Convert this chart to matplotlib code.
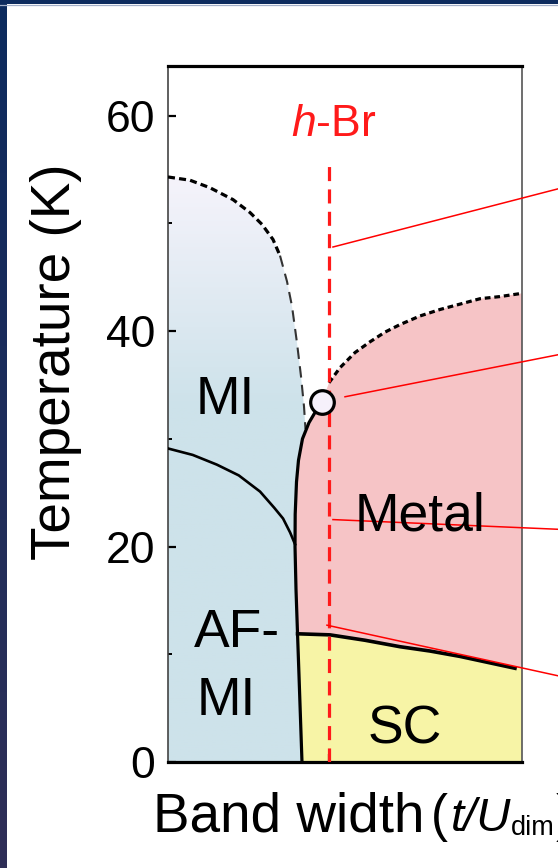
import numpy as np
import matplotlib
matplotlib.use("Agg")
import matplotlib.pyplot as plt
from matplotlib.patches import Polygon
from matplotlib.lines import Line2D
from matplotlib.colors import to_rgb

plt.rcParams['font.family'] = ['Liberation Sans', 'DejaVu Sans']
plt.rcParams['mathtext.fontset'] = 'custom'
plt.rcParams['mathtext.rm'] = 'Liberation Sans'
plt.rcParams['mathtext.it'] = 'Liberation Sans:italic'

# ---- phase boundaries: band width (arb. units 0..1) vs temperature (K) ----
# insulator crossover (dashed), from the left edge down to the Mott line
mi_x = [0.0, 0.0621, 0.1186, 0.1836, 0.2316, 0.2655, 0.2966, 0.3164,
        0.3362, 0.3503, 0.3644, 0.3757, 0.3842, 0.3884]
mi_T = [54.3, 54.0, 53.3, 52.2, 51.0, 49.9, 48.5, 47.0,
        44.6, 42.3, 38.9, 35.8, 33.0, 30.9]
# first-order Mott transition line (solid), bottom to the critical end point
mott_x = [0.3785, 0.3743, 0.3701, 0.3658, 0.3616, 0.3588, 0.3593,
          0.3630, 0.3686, 0.3799, 0.3983, 0.4181]
mott_T = [0.0, 4.0, 8.0, 12.0, 16.0, 20.0, 23.0, 26.0, 28.0, 30.0, 31.5, 32.6]
# antiferromagnetic ordering line
af_x = [0.0, 0.07, 0.138, 0.20, 0.26, 0.30, 0.325, 0.345, 0.359]
af_T = [29.1, 28.5, 27.6, 26.6, 25.1, 23.6, 22.6, 21.3, 20.2]
# metal crossover (dotted), from the end point to the right edge
met_x = [0.4548, 0.4859, 0.5282, 0.5706, 0.6130, 0.6554, 0.7119,
         0.7684, 0.8249, 0.8814, 0.9379, 1.0]
met_T = [35.2, 36.6, 38.0, 39.0, 39.9, 40.6, 41.4, 42.0, 42.5, 43.0, 43.2, 43.5]
# superconducting transition
sc_x = [0.366, 0.4576, 0.5565, 0.6554, 0.7401, 0.8249, 0.9802]
sc_T = [11.9, 11.8, 11.3, 10.7, 10.3, 9.8, 8.7]
# critical end point
cp_x, cp_T = 0.435, 33.4
# h-Br position
hbr_x, hbr_top = 0.455, 55.5
# leader lines toward the right margin
lead_x0 = [0.466, 0.50, 0.466, 0.449]
lead_T0 = [47.8, 33.9, 22.5, 12.7]
lead_T1 = [53.2, 37.8, 21.6, 8.0]
lead_x1 = 1.102

y_major = [0, 20, 40, 60]
y_minor = [10, 30, 50]
T_max = 64.6

W, H = 558, 868
fig = plt.figure(figsize=(W / 100, H / 100), dpi=100)
fig.patch.set_facecolor('white')

# navy frame on the left and top
left = fig.add_axes([0, 0, 7 / W, 1])
grad = np.linspace(0, 1, 256)[:, None, None]
c_top, c_bot = np.array(to_rgb('#0c2a5e')), np.array(to_rgb('#2f2f57'))
left.imshow(c_top * (1 - grad) + c_bot * grad, aspect='auto', extent=(0, 1, 0, 1))
left.axis('off')
top = fig.add_axes([0, 1 - 4 / H, 1, 4 / H])
top.set_facecolor('#0d2b5e')
top.set_xticks([]); top.set_yticks([])
for s in top.spines.values():
    s.set_visible(False)
fig.add_artist(Line2D([0, 1], [1 - 4.6 / H, 1 - 4.6 / H], color='#a3afc8', lw=0.9))

ax = fig.add_axes([168 / W, (H - 762) / H, 354 / W, 696 / H])
ax.set_xlim(0, 1)
ax.set_ylim(0, T_max)

# insulating region with a fading gradient
mi_poly = (list(zip(mi_x, mi_T))
           + [(x, t) for x, t in zip(mott_x[::-1], mott_T[::-1]) if t <= 30.5]
           + [(0, 0)])
mi_patch = Polygon(mi_poly, closed=True, facecolor='none', edgecolor='none')
ax.add_patch(mi_patch)
Tg = np.linspace(0, T_max, 400)[::-1]
blue, pale = np.array(to_rgb('#cde2ea')), np.array(to_rgb('#f5f3fb'))
f = np.clip((Tg - 33) / (54 - 33), 0, 1)[:, None, None]
img = blue * (1 - f) + pale * f
im = ax.imshow(img, extent=(0, 1, 0, T_max), aspect='auto', zorder=1)
im.set_clip_path(mi_patch)

# metallic region
met_poly = ([(x, t) for x, t in zip(mott_x, mott_T) if t >= 12] + [(cp_x, cp_T)]
            + list(zip(met_x, met_T)) + [(1.0, sc_T[-1])]
            + list(zip(sc_x[::-1], sc_T[::-1])))
ax.add_patch(Polygon(met_poly, closed=True, facecolor='#f6c4c6', edgecolor='none', zorder=1))

# superconducting region
sc_poly = ([(x, t) for x, t in zip(mott_x, mott_T) if t <= 12]
           + list(zip(sc_x, sc_T)) + [(1.0, sc_T[-1]), (1.0, 0.0)])
ax.add_patch(Polygon(sc_poly, closed=True, facecolor='#f7f4a6', edgecolor='none', zorder=1))

# boundaries
ax.plot(mi_x[:8], mi_T[:8], color='black', lw=2.3, ls=(0, (2.2, 1.3)), zorder=3)
ax.plot(mi_x[7:], mi_T[7:], color='#333333', lw=1.5, ls=(0, (5.5, 3.5)), zorder=3)
ax.plot(met_x, met_T, color='black', lw=2.3, ls=(0, (1.8, 1.2)), zorder=3)
ax.plot(mott_x + [cp_x], mott_T + [cp_T], color='black', lw=2.3, zorder=3)
ax.plot(af_x, af_T, color='black', lw=1.9, zorder=3)
ax.plot(sc_x, sc_T, color='black', lw=2.6, zorder=3)

# h-Br line and label
ax.plot([hbr_x, hbr_x], [0, hbr_top], color='#ff1a1a', lw=2.3, ls=(0, (4.4, 2.6)), zorder=4)
ax.text(hbr_x + 0.012, 59.2, r'$\it{h}$-Br', color='#ff1a1a', fontsize=32,
        ha='center', va='center', zorder=5)

# leader lines
for x0, t0, t1 in zip(lead_x0, lead_T0, lead_T1):
    ax.plot([x0, lead_x1], [t0, t1], color='#ff0000', lw=1.1, clip_on=False, zorder=5)

# critical end point
ax.plot([cp_x], [cp_T], marker='o', ms=17, mfc='#f6f1fb', mec='black', mew=2.3, zorder=6)

# phase labels
lab = dict(fontsize=38.5, va='center', zorder=5)
ax.text(0.161, 33.6, 'MI', ha='center', **lab)
ax.text(0.074, 12.0, 'AF-', ha='left', **lab)
ax.text(0.080, 5.7, 'MI', ha='left', **lab)
ax.text(0.712, 22.8, 'Metal', ha='center', **lab)
ax.text(0.669, 3.0, 'SC', ha='center', **lab)

# axes styling
ax.set_yticks(y_major)
ax.set_yticks(y_minor, minor=True)
ax.set_xticks([hbr_x])
ax.set_xticklabels([''])
ax.tick_params(axis='y', which='major', direction='in', length=6, width=1.6,
               labelsize=32, pad=9)
ax.tick_params(axis='y', which='minor', direction='in', length=3, width=1.4)
ax.tick_params(axis='x', which='major', direction='in', length=6, width=1.6)
ax.spines['top'].set_linewidth(2.3)
ax.spines['bottom'].set_linewidth(2.3)
ax.spines['left'].set_linewidth(1.2)
ax.spines['left'].set_color('#444444')
ax.spines['right'].set_linewidth(1.2)
ax.spines['right'].set_color('#555555')

fig.text(56 / W, 1 - 362 / H, 'Temperature (K)', rotation=90, fontsize=39.5,
         ha='center', va='center')

# x-axis title built from pieces: text, paren, italic symbols, subscript
renderer = fig.canvas.get_renderer()
base_y = 1 - 831 / H
x_px = 153.0
pieces = [('Band width', 39.5, 'normal', 0, 6),
          ('(', 37, 'normal', 0, 3),
          ('t/U', 34, 'italic', 0, 0),
          ('dim', 19.5, 'normal', -4, 1),
          (')', 37, 'normal', 0, 0)]
for s, size, style, dy, gap in pieces:
    t = fig.text(x_px / W, base_y + dy / H, s, fontsize=size, style=style,
                 ha='left', va='baseline')
    bb = t.get_window_extent(renderer)
    x_px = bb.x1 + gap

fig.savefig('out.png', dpi=100)
